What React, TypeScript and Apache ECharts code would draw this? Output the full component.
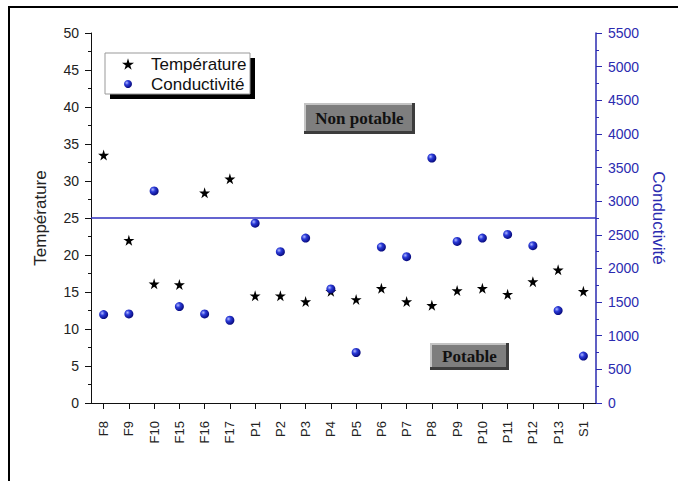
import React, { useEffect, useRef } from "react";
import * as echarts from "echarts";

const categories = ["F8", "F9", "F10", "F15", "F16", "F17", "P1", "P2", "P3", "P4", "P5", "P6", "P7", "P8", "P9", "P10", "P11", "P12", "P13", "S1"];
const temperature = [33.5, 22.0, 16.1, 16.0, 28.4, 30.3, 14.5, 14.5, 13.7, 15.1, 14.0, 15.5, 13.7, 13.2, 15.2, 15.5, 14.7, 16.4, 18.0, 15.1];
const conductivity = [1315, 1324, 3153, 1433, 1324, 1230, 2673, 2249, 2451, 1695, 751, 2318, 2175, 3642, 2402, 2451, 2506, 2338, 1374, 697];
const threshold = 25;
const tempTicks = { min: 0, max: 50, interval: 5 };
const condTicks = { min: 0, max: 5500, interval: 500 };

const STAR = "path://M50,0 L61,35 L98,35 L68,57 L79,91 L50,70 L21,91 L32,57 L2,35 L39,35 Z";
const SANS = "Liberation Sans, Arial, sans-serif";
const SERIF = "Liberation Serif, Times New Roman, serif";
const BLUE = "#2b2bb0";

const sphere = {
  type: "radial",
  x: 0.35,
  y: 0.35,
  r: 0.75,
  colorStops: [
    { offset: 0, color: "#b0b8ff" },
    { offset: 0.35, color: "#2a3ad8" },
    { offset: 1, color: "#00006a" },
  ],
};

function bevelBox(x: number, y: number, w: number, h: number, label: string) {
  return {
    type: "group",
    children: [
      { type: "rect", shape: { x, y, width: w, height: h }, style: { fill: "#3c3c3c" } },
      { type: "rect", shape: { x, y, width: w - 3, height: h - 3 }, style: { fill: "#c4c4c4" } },
      { type: "rect", shape: { x: x + 2, y: y + 2, width: w - 5, height: h - 5 }, style: { fill: "#7e7e7e" } },
      {
        type: "text",
        x: x + w / 2,
        y: y + h / 2,
        style: {
          text: label,
          font: `bold 17px ${SERIF}`,
          fill: "#111",
          align: "center",
          verticalAlign: "middle",
        },
      },
    ],
  };
}

export default function App() {
  const ref = useRef<HTMLDivElement>(null);
  useEffect(() => {
    if (!ref.current) return;
    const chart = echarts.init(ref.current, undefined, { renderer: "svg" });
    chart.setOption({
      animation: false,
      backgroundColor: "#fff",
      grid: { left: 91, right: 82, top: 33, bottom: 78 },
      legend: [
        {
          data: ["Température"],
          orient: "vertical",
          left: 122,
          top: 54,
          padding: 0,
          itemWidth: 12,
          itemHeight: 12,
          textStyle: { fontFamily: SANS, fontSize: 17, color: "#111", lineHeight: 20, padding: [0, 0, 0, 12] },
        },
        {
          data: ["Conductivité"],
          orient: "vertical",
          left: 124,
          top: 74,
          padding: 0,
          itemWidth: 8,
          itemHeight: 8,
          textStyle: { fontFamily: SANS, fontSize: 17, color: "#111", lineHeight: 20, padding: [0, 0, 0, 14] },
        },
      ],
      xAxis: [
        {
          type: "category",
          data: categories,
          position: "bottom",
          boundaryGap: true,
          axisLine: { show: true, lineStyle: { color: "#111", width: 1 } },
          axisTick: { show: true, alignWithLabel: true, length: 6, lineStyle: { color: "#111" } },
          axisLabel: { rotate: 90, margin: 18, fontFamily: SANS, fontSize: 13, color: "#222" },
          splitLine: { show: false },
        },
        {
          type: "category",
          data: categories,
          position: "top",
          boundaryGap: true,
          axisLine: { show: true, lineStyle: { color: "#111", width: 1 } },
          axisTick: { show: true, inside: true, alignWithLabel: true, length: 6, lineStyle: { color: "#111" } },
          axisLabel: { show: false },
          splitLine: { show: false },
        },
      ],
      yAxis: [
        {
          type: "value",
          position: "left",
          min: tempTicks.min,
          max: tempTicks.max,
          interval: tempTicks.interval,
          name: "Température",
          nameLocation: "middle",
          nameGap: 42,
          nameRotate: 90,
          nameTextStyle: { fontFamily: SANS, fontSize: 17, color: "#222" },
          axisLine: { show: true, lineStyle: { color: "#111", width: 1 } },
          axisTick: { show: true, length: 6, lineStyle: { color: "#111" } },
          minorTick: { show: true, splitNumber: 2, length: 3, lineStyle: { color: "#111" } },
          axisLabel: { margin: 12, fontFamily: SANS, fontSize: 14, color: "#222" },
          splitLine: { show: false },
        },
        {
          type: "value",
          position: "right",
          min: condTicks.min,
          max: condTicks.max,
          interval: condTicks.interval,
          name: "Conductivité",
          nameLocation: "middle",
          nameGap: 46,
          nameRotate: -90,
          nameTextStyle: { fontFamily: SANS, fontSize: 17, color: BLUE },
          axisLine: { show: true, lineStyle: { color: BLUE, width: 1.5 } },
          axisTick: { show: true, length: 6, lineStyle: { color: BLUE } },
          minorTick: { show: true, splitNumber: 2, length: 3, lineStyle: { color: BLUE } },
          axisLabel: { margin: 12, fontFamily: SANS, fontSize: 14, color: BLUE, formatter: (v: number) => String(v) },
          splitLine: { show: false },
        },
      ],
      series: [
        {
          name: "Température",
          type: "scatter",
          xAxisIndex: 0,
          yAxisIndex: 0,
          data: temperature,
          symbol: STAR,
          symbolSize: 11,
          itemStyle: { color: "#000", opacity: 1 },
          z: 3,
          markLine: {
            silent: true,
            symbol: "none",
            label: { show: false },
            lineStyle: { color: "#3030c0", width: 1.5, type: "solid" },
            data: [{ yAxis: threshold }],
          },
        },
        {
          name: "Conductivité",
          type: "scatter",
          xAxisIndex: 0,
          yAxisIndex: 1,
          data: conductivity,
          symbol: "circle",
          symbolSize: 9,
          itemStyle: { color: sphere, opacity: 1 },
          z: 3,
        },
      ],
      graphic: [
        {
          type: "rect",
          z: -1,
          shape: { x: 9, y: 7, width: 720, height: 520 },
          style: { fill: "none", stroke: "#000", lineWidth: 2 },
        },
        {
          type: "rect",
          z: 0,
          shape: { x: 110, y: 58, width: 145, height: 41 },
          style: { fill: "#000" },
        },
        {
          type: "rect",
          z: 0,
          shape: { x: 105, y: 53, width: 145, height: 41 },
          style: { fill: "#fff", stroke: "#999", lineWidth: 1 },
        },
        bevelBox(304, 103, 111, 31, "Non potable"),
        bevelBox(430, 343, 79, 27, "Potable"),
      ],
    });
    return () => chart.dispose();
  }, []);
  return (
    <div
      ref={ref}
      style={{ position: "fixed", left: 0, top: 0, width: 678, height: 481 }}
    />
  );
}
